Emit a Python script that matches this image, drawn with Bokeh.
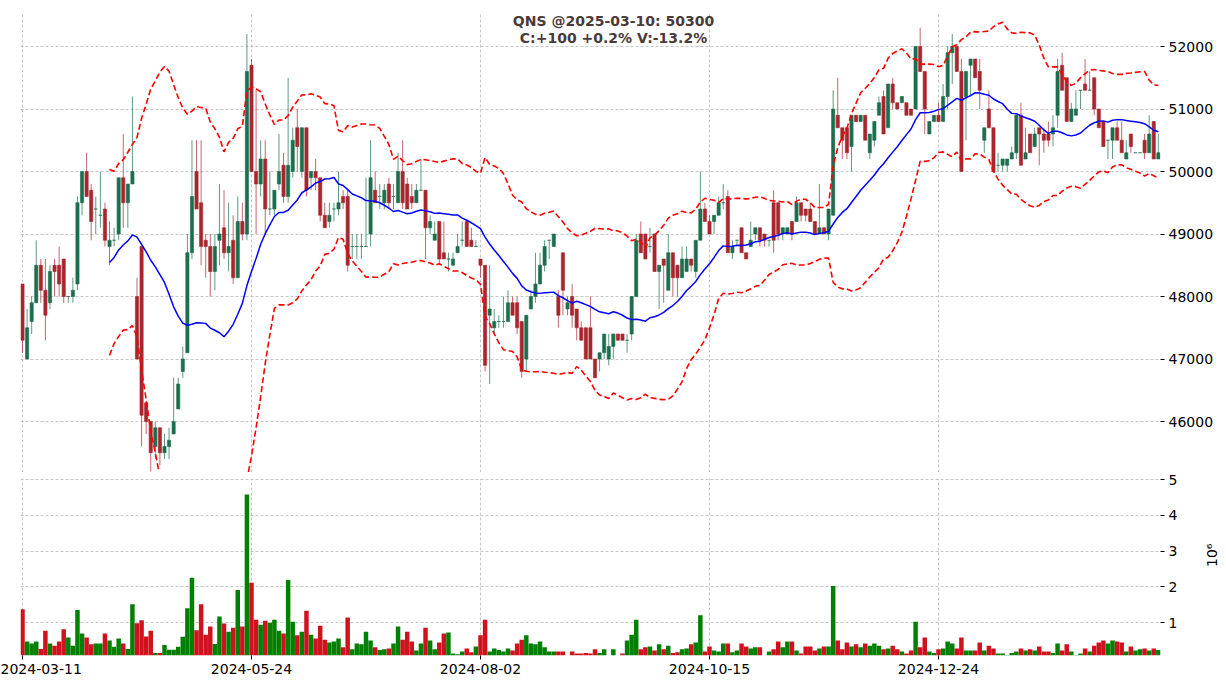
import math
import pandas as pd
from bokeh.plotting import figure
from bokeh.layouts import column
from bokeh.models import Range1d, FixedTicker, Label, ColumnDataSource, CustomJSTickFormatter
from bokeh.embed import file_html
from bokeh.resources import INLINE

# ---------------- data ----------------
opens = [48200,47000,47600,47900,48500,48100,47900,48500,48500,48600,
         48000,48000,48200,49500,50000,49700,49400,49300,49400,48800,
         48900,49000,49900,49500,49800,48000,48800,46300,46000,45600,
         45900,45500,45600,45800,46200,46800,47100,48700,50000,49500,
         48900,48800,48400,48900,49100,48700,48900,48300,49200,49000,
         51700,50000,49800,50200,49400,49400,49800,50100,49600,50000,
         50700,50000,50700,49900,50000,49900,49300,49200,49400,49400,
         49600,49600,48800,48800,48800,48800,49000,49700,49600,49500,
         49800,49600,49500,50000,49800,49600,49500,49700,49700,49100,
         48900,49200,48700,48600,48500,48700,48900,49200,48900,48800,
         48600,48500,47700,47500,47600,47600,47600,47900,47900,47600,
         47000,47800,48000,48200,48500,48900,48800,48000,48700,47800,
         48000,47800,47500,47500,47500,47000,47000,47100,47000,47200,
         47400,47400,47300,47400,48000,49000,49000,48800,49000,48400,
         48600,48100,48700,48500,48300,48400,48600,48400,48900,49400,
         49200,49200,49300,49500,49600,48700,48900,49100,48700,48800,
         49000,49100,49000,48900,49500,49500,49000,49000,49200,49200,
         49500,49400,49400,49200,49000,49100,49000,49300,50900,50700,
         50700,50400,50900,50800,50900,50300,50500,50900,51200,50700,
         51400,51100,51100,51100,51000,51000,52000,51600,50600,50800,
         50900,50800,51200,51900,52000,51600,51200,51700,51800,51600,
         50500,51000,50700,50100,50100,50100,50200,50300,50900,50200,
         50600,50400,50700,50600,50600,50600,50900,51700,51500,50800,
         50900,51300,51400,51300,51500,51000,50800,50500,50500,50700,
         50500,50200,50600,50300,50300,50500,50300,50800,50200]

highs = [48200,47800,48000,48900,48600,48600,48500,48600,48800,48600,
         48000,48300,49600,50000,50300,49800,49600,50000,49500,49200,
         49100,49900,50600,49800,51200,48300,48800,46300,46000,46000,
         45900,45800,45900,46700,46700,47200,49000,50500,50500,50500,
         49000,49000,49000,49800,49700,49500,49300,49600,49500,52200,
         51800,51300,50500,50500,50000,49700,50600,50300,51500,50700,
         51000,50700,50700,50000,50200,49900,49500,49500,49500,50000,
         49700,49700,49000,49000,49000,49900,50500,50000,49800,49800,
         49900,49800,50300,50500,49900,49800,49800,50200,49700,49300,
         49200,49200,49200,48700,48700,49000,49200,49200,49100,48900,
         48600,48500,48500,47800,47700,48000,48100,48000,48000,47600,
         47700,48100,48700,48700,48900,48900,49000,48100,48700,48000,
         48200,47800,47600,47500,48000,47000,47100,47400,47400,47400,
         47400,47400,47400,48000,49000,49200,49000,49100,49000,48500,
         48600,49000,48700,48500,48800,48800,48600,48900,50000,49500,
         49300,49300,49600,49800,49700,48900,48900,49100,48700,49200,
         49100,49100,49000,48900,49700,49500,49100,49100,49200,49600,
         49500,49400,49500,49200,49800,49100,49400,51300,51500,50700,
         50700,50900,50900,50900,50900,50600,50800,51200,51300,51400,
         51500,51100,51200,51100,51000,52000,52300,51600,50800,50900,
         51100,51400,52000,52200,52000,51800,51600,51800,51800,51800,
         50700,51300,50700,50300,50200,50200,50400,50900,51100,50700,
         50600,50700,50700,50700,50800,50900,51800,51900,51500,51100,
         51300,51300,51800,51600,51500,51000,50800,50500,50700,50800,
         50800,50500,50600,50300,50300,50600,50900,50800,50600]

lows = [47100,47000,47400,47900,47900,47300,47800,48000,48000,47900,
        47900,47900,48100,49300,49600,48900,49000,49100,48800,48500,
        48800,48900,49100,49100,49800,47000,45600,45800,45200,45400,
        45300,45400,45400,45800,46200,46700,47100,48600,49400,48500,
        48300,48000,48100,48500,48600,48400,48200,48300,48900,48900,
        50000,49000,49600,49000,49300,49300,49700,49500,49500,49900,
        50000,49900,49600,49700,49700,49200,49100,49100,49200,49300,
        49400,48400,48600,48600,48600,48800,48800,49500,49400,49400,
        49400,49400,49500,49400,49400,49400,49500,49700,48600,49000,
        48900,48500,48600,48400,48500,48700,48800,48800,48800,48800,
        48300,46800,46600,47400,47500,47500,47600,47800,47400,46700,
        46800,47800,47900,48200,48400,48600,48800,47500,47700,47700,
        47500,47300,47300,47000,47000,46700,46800,47000,46900,47000,
        47300,47300,47100,47300,48000,48700,48600,48700,48400,47800,
        47900,48100,48000,48000,48300,48400,48400,48300,48900,49200,
        49000,49000,49300,49400,48700,48600,48800,48700,48600,48800,
        48900,48800,48800,48800,48700,48900,48900,49000,48900,49200,
        49200,49200,49200,49000,49000,49000,48900,49300,50700,50200,
        50200,50000,50800,50800,50500,50200,50400,50900,50600,50700,
        51000,51000,51100,50900,50900,51000,51600,50600,50600,50800,
        50800,50800,51000,51400,51600,50000,50500,51200,51500,51000,
        50300,50700,50000,50000,50000,50000,50200,50200,50100,50200,
        50300,50400,50100,50300,50400,50400,50700,51300,50800,50800,
        50900,51000,51300,51300,50900,50700,50400,50200,50200,50500,
        50300,50200,50300,50300,50300,50200,50300,50200,50200]

closes = [47300,47500,47900,48500,48100,47700,48400,48400,48200,48000,
          48000,48100,49500,50000,49600,49200,49400,49300,48900,48900,
          48900,49900,49500,49800,50000,47000,46100,46000,45500,45900,
          45500,45600,45700,46000,46600,47000,48700,49600,49400,48800,
          48800,48400,48800,49000,48700,48800,48300,49200,49000,51600,
          50000,49800,50200,49400,49400,49700,50000,49600,50100,50500,
          50400,50700,49700,50000,49900,49300,49100,49300,49400,49500,
          49500,48500,48800,48800,48800,48800,49900,49500,49600,49700,
          49500,49600,50000,49500,49400,49500,49700,49700,49100,49200,
          49000,48600,48600,48600,48600,48800,48900,48800,48800,48800,
          48500,46900,47800,47600,47600,47600,47900,47700,47500,46800,
          47700,48000,48200,48500,48800,48900,49000,47700,48100,47900,
          47700,47500,47300,47000,47000,46700,47100,47400,47200,47400,
          47300,47300,47300,48000,48900,48700,48600,48800,48400,48500,
          48500,48700,48300,48300,48600,48600,48500,48900,49400,49200,
          49000,49300,49500,49500,48700,48800,48900,48700,48600,48900,
          49100,48900,48900,48900,48900,49000,49100,49100,49000,49500,
          49300,49300,49200,49000,49100,49000,49400,51000,50700,50500,
          50300,50900,50800,50900,50500,50600,50800,51100,50600,51400,
          51100,51000,51200,50900,50900,52000,51600,51000,50800,50900,
          50800,51200,51900,52000,51600,50000,51600,51800,51500,51300,
          50700,50700,50000,50100,50200,50200,50300,50900,50100,50300,
          50300,50600,50600,50500,50500,50700,51600,51300,50800,51000,
          51000,51300,51300,51300,51000,50700,50400,50500,50700,50500,
          50300,50300,50400,50300,50300,50300,50600,50200,50300]

volume_millions = [1.37,0.47,0.41,0.47,0.26,0.77,0.41,0.35,0.47,0.81,
                   0.58,0.35,1.35,0.69,0.58,0.39,0.41,0.41,0.69,0.50,
                   0.32,0.55,0.41,0.26,1.51,0.98,1.06,0.61,0.77,0.15,
                   0.15,0.37,0.24,0.24,0.32,0.60,1.40,2.25,0.78,1.51,
                   0.66,0.89,0.40,1.17,0.97,0.74,0.85,1.91,0.89,4.58,
                   2.11,1.08,0.94,1.05,0.99,1.08,0.77,0.69,2.19,1.02,
                   0.64,0.74,1.33,0.66,0.55,0.91,0.52,0.44,0.47,0.55,
                   0.31,1.14,0.25,0.41,0.39,0.74,0.50,0.31,0.23,0.25,
                   0.27,0.41,0.89,0.52,0.74,0.47,0.22,0.41,0.85,0.50,
                   0.25,0.44,0.69,0.72,0.13,0.11,0.19,0.27,0.17,0.33,
                   0.64,1.08,0.19,0.27,0.23,0.19,0.27,0.22,0.41,0.52,
                   0.64,0.41,0.39,0.47,0.31,0.19,0.19,0.19,0.19,0.08,
                   0.19,0.13,0.13,0.15,0.13,0.25,0.15,0.25,0.08,0.25,
                   0.08,0.13,0.50,0.66,1.08,0.25,0.31,0.33,0.22,0.39,
                   0.25,0.35,0.15,0.17,0.25,0.27,0.39,0.44,1.20,0.19,
                   0.33,0.22,0.19,0.41,0.41,0.17,0.22,0.41,0.33,0.27,
                   0.31,0.31,0.08,0.19,0.25,0.47,0.31,0.47,0.47,0.22,
                   0.13,0.33,0.33,0.22,0.27,0.33,0.33,2.02,0.50,0.25,
                   0.44,0.33,0.39,0.31,0.41,0.35,0.41,0.35,0.25,0.27,
                   0.35,0.25,0.19,0.13,0.22,1.02,0.31,0.58,0.19,0.15,
                   0.25,0.27,0.47,0.41,0.27,0.58,0.22,0.22,0.22,0.44,
                   0.22,0.35,0.27,0.13,0.13,0.09,0.15,0.19,0.27,0.22,
                   0.25,0.22,0.33,0.19,0.19,0.15,0.41,0.22,0.39,0.19,
                   0.06,0.13,0.27,0.19,0.35,0.44,0.50,0.41,0.50,0.47,
                   0.44,0.19,0.33,0.22,0.25,0.27,0.22,0.27,0.234]

date_tick_index = [0, 50, 100, 150, 200]
date_tick_labels = ["2024-03-11", "2024-05-24", "2024-08-02", "2024-10-15", "2024-12-24"]
price_ticks = [46000, 47000, 48000, 49000, 50000, 51000, 52000]
volume_ticks = [1e6, 2e6, 3e6, 4e6, 5e6]
title_line1 = "QNS @2025-03-10: 50300"
title_line2 = "C:+100 +0.2% V:-13.2%"
bb_period = 20

# ---------------- derived ----------------
n = len(closes)
idx = list(range(n))
is_up = [c >= o for o, c in zip(opens, closes)]

UP_BODY, DN_BODY = "#1d6e4e", "#a8262e"
UP_VOL, DN_VOL = "#008000", "#d0121f"

cs = pd.Series(closes, dtype=float)
ma = cs.rolling(bb_period).mean()
sd = cs.rolling(bb_period).std(ddof=0)
upper = ma + 2 * sd
lower = ma - 2 * sd

src = ColumnDataSource(dict(
    x=idx, h=highs, l=lows,
    top=[max(o, c) for o, c in zip(opens, closes)],
    bot=[min(o, c) for o, c in zip(opens, closes)],
    col=[UP_BODY if u else DN_BODY for u in is_up],
    vol=[v * 1e6 for v in volume_millions],
    vcol=[UP_VOL if u else DN_VOL for u in is_up],
))
k = bb_period - 1
bsrc = ColumnDataSource(dict(x=idx[k:], ma=list(ma[k:]), up=list(upper[k:]), lo=list(lower[k:])))

# ---------------- layout constants (page pixels) ----------------
FRAME_L = 20          # frame left edge in page px
FRAME_W = 1140
PX_PER_BAR = 4.58
IDX0_PX = 22          # page x of bar 0
x0 = -(IDX0_PX - FRAME_L) / PX_PER_BAR
x_range = Range1d(x0, x0 + FRAME_W / PX_PER_BAR)

P_TOP, P_BOT = 13, 472
PX_PER_1000 = 62.5
Y52000 = 46
p_top = 52000 + (Y52000 - P_TOP) * 1000 / PX_PER_1000
price_range = Range1d(p_top - (P_BOT - P_TOP) / PX_PER_1000 * 1000, p_top)

V_TOP, V_BOT = 478, 655
PX_PER_M = 35.75
Y1M = 622
v_bot = (1 - (V_BOT - Y1M) / PX_PER_M) * 1e6
vol_range = Range1d(v_bot, v_bot + (V_BOT - V_TOP) / PX_PER_M * 1e6)

FONT = "DejaVu Sans"
GRID_COL = "#b8b8b8"


def style_common(f):
    f.outline_line_color = None
    f.background_fill_color = "white"
    f.border_fill_color = "white"
    f.xgrid.ticker = FixedTicker(ticks=date_tick_index)
    for g in (f.xgrid, f.ygrid):
        g.grid_line_color = GRID_COL
        g.grid_line_dash = "3 2"
        g.grid_line_width = 0.8


def style_axis(ax):
    ax.axis_line_color = None
    ax.major_tick_line_color = "black"
    ax.major_tick_out = 4
    ax.major_tick_in = 0
    ax.minor_tick_line_color = None
    ax.major_label_text_font = FONT
    ax.major_label_text_font_size = "14px"
    ax.major_label_text_color = "black"
    ax.major_label_standoff = 4


# ---------------- price panel ----------------
p = figure(frame_width=FRAME_W, frame_height=P_BOT - P_TOP, x_range=x_range, y_range=price_range,
           x_axis_location=None, y_axis_location="right", toolbar_location=None,
           output_backend="svg", min_border_left=FRAME_L, min_border_right=58,
           min_border_top=P_TOP, min_border_bottom=0)
style_common(p)
p.yaxis.ticker = FixedTicker(ticks=price_ticks)
p.ygrid.ticker = FixedTicker(ticks=price_ticks)
style_axis(p.yaxis[0])

p.segment(x0="x", y0="h", x1="x", y1="l", source=src, line_color="col", line_width=1, line_alpha=0.7)
p.vbar(x="x", width=0.7, top="top", bottom="bot", source=src, fill_color="col",
       line_color="col", line_width=0.6)
p.line("x", "up", source=bsrc, line_color="red", line_width=1.6, line_dash="6 3")
p.line("x", "lo", source=bsrc, line_color="red", line_width=1.6, line_dash="6 3")
p.line("x", "ma", source=bsrc, line_color="blue", line_width=1.5)

title_x = x0 + (613 - FRAME_L) / PX_PER_BAR
for txt, ypx in ((title_line1, 20), (title_line2, 37)):
    p.add_layout(Label(x=title_x, y=52000 + (Y52000 - ypx) * 1000 / PX_PER_1000, text=txt,
                       text_align="center", text_baseline="middle", text_font=FONT,
                       text_font_size="14px", text_font_style="bold", text_color="#4b3a3a"))

# ---------------- volume panel ----------------
v = figure(frame_width=FRAME_W, frame_height=V_BOT - V_TOP, x_range=x_range, y_range=vol_range,
           x_axis_location="below", y_axis_location="right", toolbar_location=None,
           output_backend="svg", min_border_left=FRAME_L, min_border_right=58,
           min_border_top=V_TOP - P_BOT, min_border_bottom=30)
style_common(v)
v.yaxis.ticker = FixedTicker(ticks=volume_ticks)
v.ygrid.ticker = FixedTicker(ticks=volume_ticks)
v.yaxis.formatter = CustomJSTickFormatter(code="return (tick / 1e6).toFixed(0);")
vy = v.yaxis[0]
style_axis(vy)
vy.axis_label = "10\u2076"
vy.axis_label_text_font = FONT
vy.axis_label_text_font_size = "14px"
vy.axis_label_text_font_style = "normal"
vy.axis_label_text_color = "black"
vy.axis_label_standoff = 32
if "axis_label_orientation" in vy.properties():
    vy.axis_label_orientation = math.pi / 2
v.xaxis.ticker = FixedTicker(ticks=date_tick_index)
v.xaxis.major_label_overrides = {i: s for i, s in zip(date_tick_index, date_tick_labels)}
style_axis(v.xaxis[0])

v.vbar(x="x", width=0.98, top="vol", bottom=0, source=src, fill_color="vcol", line_color=None)

layout = column(p, v, spacing=0)
open("out.html", "w").write(file_html(layout, INLINE))
